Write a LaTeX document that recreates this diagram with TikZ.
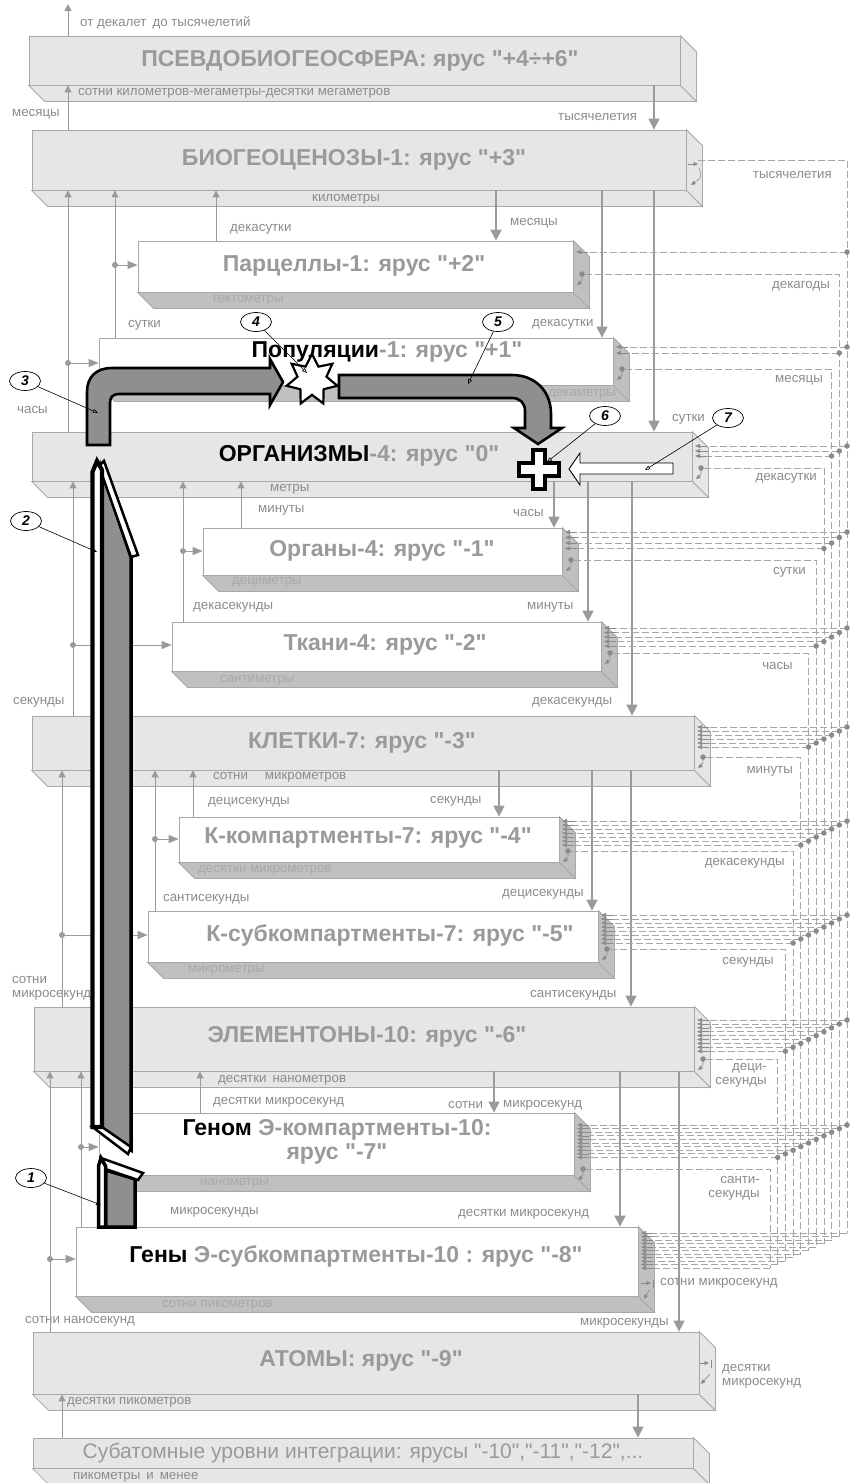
\documentclass[tikz,border=0pt]{standalone}
\usepackage{fontspec}
\setmainfont{Liberation Sans}[Ligatures=TeXOff]
\usetikzlibrary{fit,arrows.meta,shapes.geometric}
\definecolor{tgray}{HTML}{9A9A9A}
\definecolor{lgray}{HTML}{8C8C8C}
\definecolor{sgray}{HTML}{A9A9A9}
\definecolor{bord}{HTML}{A8A8A8}
\definecolor{boxg}{HTML}{E6E6E6}
\definecolor{sideg}{HTML}{C0C0C0}
\definecolor{linec}{HTML}{9A9A9A}
\definecolor{arrg}{HTML}{8F8F8F}
\definecolor{dashc}{HTML}{A6A6A6}
\definecolor{darkg}{HTML}{8A8A8A}
\newcommand\slab[7]{%
  \node[fit={(#2,#3)(#4,#5)},inner sep=0pt,draw=bord,fill=#6,line width=0.8pt] (#1) {};
  \filldraw[draw=bord,fill=#7,line width=0.8pt] (#1.south west) -- (#1.south east) -- ([shift={(16,16)}]#1.south east) -- ([shift={(16,16)}]#1.south west) -- cycle;
  \filldraw[draw=bord,fill=#7,line width=0.8pt] (#1.north east) -- ([shift={(16,16)}]#1.north east) -- ([shift={(16,16)}]#1.south east) -- (#1.south east) -- cycle;
}
\begin{document}
\begin{tikzpicture}[x=1pt,y=-1pt,
  title/.style={font=\bfseries\fontsize{23}{26}\selectfont, text=tgray, inner sep=0pt},
  lab/.style={font=\fontsize{13.3}{14}\selectfont, text=lgray, inner sep=0pt, anchor=west},
  slb/.style={lab, text=sgray},
  downarr/.style={draw=linec, line width=1.4pt, -{Triangle[length=11pt,width=11pt]}},
  uparr/.style={draw=linec, line width=1pt, -{Triangle[length=7pt,width=7pt]}},
  harr/.style={draw=linec, line width=1pt, -{Triangle[length=10pt,width=8pt]}},
  dot/.style={circle, fill=linec, inner sep=0pt, minimum size=6pt},
  sdot/.style={circle, fill=darkg, inner sep=0pt, minimum size=5.5pt},
  dline/.style={draw=dashc, line width=0.8pt, dash pattern=on 7pt off 3pt},
  inarr/.style={draw=darkg, line width=0.6pt, -{Triangle[length=5pt,width=4pt]}},
  loopar/.style={draw=darkg, line width=0.6pt, -{Triangle[length=4.5pt,width=4pt]}},
  bigar/.style={draw=black, line width=2.6pt, fill=arrg, line join=miter},
  callout/.style={ellipse, draw=black, line width=0.7pt, fill=white, minimum width=31pt, minimum height=19pt, inner sep=0pt, font=\bfseries\itshape\fontsize{14}{14}\selectfont},
  leader/.style={draw=black, line width=0.6pt, -{Triangle[open,length=5pt,width=4pt]}}
]
\fill[white] (0,0) rectangle (850,1483);
\useasboundingbox (0,0) rectangle (850,1483);

% ---------- slabs ----------
\slab{psev}{29}{36}{680}{85}{boxg}{boxg}
\slab{bio}{32}{130}{686}{190}{boxg}{boxg}
\slab{parc}{138}{241}{573}{292}{white}{sideg}
\slab{pop}{99}{338}{613}{385}{white}{sideg}
\slab{org}{32}{432}{692}{481}{boxg}{boxg}
\slab{organ}{203}{528}{562}{575}{white}{sideg}
\slab{tkan}{172}{622}{601}{671}{white}{sideg}
\slab{klet}{32}{716}{694}{770}{boxg}{boxg}
\slab{kkomp}{179}{817}{559}{862}{white}{sideg}
\slab{ksub}{148}{911}{598}{962}{white}{sideg}
\slab{elem}{34}{1007}{694}{1071}{boxg}{boxg}
\slab{genom}{99}{1113}{574}{1175}{white}{sideg}
\slab{geny}{76}{1227}{638}{1296}{white}{sideg}
\slab{atom}{33}{1332}{699}{1394}{boxg}{boxg}
\slab{subat}{33}{1438}{693}{1468}{boxg}{boxg}

% ---------- titles ----------
\node[title] (tpsev) at (360,61) {ПСЕВДОБИОГЕОСФЕРА: ярус "+4÷+6"};
\node[title] (tbio) at (354,160) {БИОГЕОЦЕНОЗЫ-1: ярус "+3"};
\node[title] (tparc) at (354,266) {Парцеллы-1: ярус "+2"};
\node[title] (tpop) at (387,352) {\textcolor{black}{Популяции}-1: ярус "+1"};
\node[title] (torg) at (359,456) {\textcolor{black}{ОРГАНИЗМЫ}-4: ярус "0"};
\node[title] (torgan) at (382,551) {Органы-4: ярус "-1"};
\node[title] (ttkan) at (385,645) {Ткани-4: ярус "-2"};
\node[title] (tklet) at (362,743) {КЛЕТКИ-7: ярус "-3"};
\node[title] (tkk) at (368,838) {К-компартменты-7: ярус "-4"};
\node[title] (tks) at (390,935) {К-субкомпартменты-7: ярус "-5"};
\node[title] (telem) at (367,1037) {ЭЛЕМЕНТОНЫ-10: ярус "-6"};
\node[title, align=center, font=\bfseries\fontsize{23}{23.5}\selectfont] (tgenom) at (337,1142) {\textcolor{black}{Геном} Э-компартменты-10:\\ярус "-7"};
\node[title] (tgeny) at (356,1256) {\textcolor{black}{Гены} Э-субкомпартменты-10 : ярус "-8"};
\node[title] (tatom) at (361,1361) {АТОМЫ: ярус "-9"};
\node[font=\fontsize{21}{23}\selectfont, text=tgray, inner sep=0pt] (tsub) at (363,1453) {Субатомные уровни интеграции: ярусы "-10","-11","-12",...};

% ---------- strip labels ----------
\node[lab] (s1) at (78,93) {сотни километров-мегаметры-десятки мегаметров};
\node[lab] (s2) at (312,199) {километры};
\node[slb] (s3) at (213,300) {гектометры};
\node[slb] (s4) at (548,394) {декаметры};
\node[lab] (s5) at (270,489) {метры};
\node[slb] (s6) at (232,582) {дециметры};
\node[slb] (s7) at (220,680) {сантиметры};
\node[lab] (s8) at (213,777) {сотни\hspace{17pt}микрометров};
\node[slb] (s9) at (198,870) {десятки микрометров};
\node[slb] (s10) at (188,970) {микрометры};
\node[lab] (s11) at (218,1080) {десятки\hspace{6pt}нанометров};
\node[slb] (s12) at (200,1183) {нанометры};
\node[slb] (s13) at (162,1305) {сотни пикометров};
\node[lab] (s14) at (67,1402) {десятки пикометров};
\node[lab] (s15) at (73,1477) {пикометры\hspace{6pt}и\hspace{6pt}менее};

% ---------- time labels (left / centre) ----------
\node[lab] (a1) at (80,23) {от декалет\hspace{6pt}до тысячелетий};
\node[lab] (a2) at (12,114) {месяцы};
\node[lab] (a3) at (558,117) {тысячелетия};
\node[lab] (a4) at (230,229) {декасутки};
\node[lab] (a5) at (510,223) {месяцы};
\node[lab] (a6) at (128,325) {сутки};
\node[lab] (a7) at (532,324) {декасутки};
\node[lab] (a8) at (17,410) {часы};
\node[lab] (a9) at (672,419) {сутки};
\node[lab] (a10) at (258,510) {минуты};
\node[lab] (a11) at (513,513) {часы};
\node[lab] (a12) at (193,607) {декасекунды};
\node[lab] (a13) at (527,607) {минуты};
\node[lab] (a14) at (13,702) {секунды};
\node[lab] (a15) at (532,702) {декасекунды};
\node[lab] (a16) at (208,802) {децисекунды};
\node[lab] (a17) at (430,801) {секунды};
\node[lab] (a18) at (163,899) {сантисекунды};
\node[lab] (a19) at (502,894) {децисекунды};
\node[lab, align=left] (a20) at (12,988) {сотни\\микросекунд};
\node[lab] (a21) at (530,995) {сантисекунды};
\node[lab] (a22) at (213,1102) {десятки микросекунд};
\node[lab] (a23) at (448,1105) {сотни};
\node[lab] (a24) at (503,1105) {микросекунд};
\node[lab] (a25) at (170,1212) {микросекунды};
\node[lab] (a26) at (458,1214) {десятки микросекунд};
\node[lab] (a27) at (25,1321) {сотни наносекунд};
\node[lab] (a28) at (580,1323) {микросекунды};
\node[lab] (a29) at (660,1283) {сотни микросекунд};
\node[lab, align=left] (a30) at (722,1376) {десятки\\микросекунд};

% ---------- time labels (right, buses) ----------
\node[lab, anchor=east] (b0) at (832,175) {тысячелетия};
\node[lab, anchor=east] (b1) at (830,286) {декагоды};
\node[lab, anchor=east] (b2) at (823,380) {месяцы};
\node[lab, anchor=east] (b3) at (817,478) {декасутки};
\node[lab, anchor=east] (b4) at (806,572) {сутки};
\node[lab, anchor=east] (b5) at (793,666) {часы};
\node[lab, anchor=east] (b6) at (793,771) {минуты};
\node[lab, anchor=east] (b7) at (785,863) {декасекунды};
\node[lab, anchor=east] (b8) at (774,962) {секунды};
\node[lab, anchor=east, align=right] (b9) at (767,1075) {деци-\\секунды};
\node[lab, anchor=east, align=right] (b10) at (760,1188) {санти-\\секунды};

% ---------- solid connectors ----------
\coordinate (topend) at (68,4);
\draw[uparr] (68,0 |- psev.north) -- (topend);
\draw[uparr] (68,0 |- bio.north) -- (68,0 |- psev.south);
\draw[downarr] (654,0 |- psev.south) -- (654,0 |- bio.north);

\draw[uparr] (68,0 |- org.north) -- (68,0 |- bio.south);
\draw[uparr] (115,0 |- pop.north) -- (115,0 |- bio.south);
\draw[uparr] (216,0 |- parc.north) -- (216,0 |- bio.south);
\node[dot] (d1) at (115,265) {}; \draw[harr] (d1.center) -- (d1 -| parc.west);
\node[dot] (d2) at (68,363) {}; \draw[harr] (d2.center) -- (d2 -| pop.west);
\draw[downarr] (496,0 |- bio.south) -- (496,0 |- parc.north);
\draw[downarr] (602,0 |- bio.south) -- (602,0 |- pop.north);
\draw[downarr] (654,0 |- bio.south) -- (654,0 |- org.north);

\draw[uparr] (73,0 |- klet.north) -- (73,0 |- org.south);
\draw[uparr] (183,0 |- tkan.north) -- (183,0 |- org.south);
\draw[uparr] (241,0 |- organ.north) -- (241,0 |- org.south);
\node[dot] (d3) at (183,551) {}; \draw[harr] (d3.center) -- (d3 -| organ.west);
\node[dot] (d4) at (73,645) {}; \draw[harr] (d4.center) -- (d4 -| tkan.west);
\draw[downarr] (554,0 |- org.south) -- (554,0 |- organ.north);
\draw[downarr] (588,0 |- org.south) -- (588,0 |- tkan.north);
\draw[downarr] (632,0 |- org.south) -- (632,0 |- klet.north);

\draw[uparr] (62,0 |- elem.north) -- (62,0 |- klet.south);
\draw[uparr] (155,0 |- ksub.north) -- (155,0 |- klet.south);
\draw[uparr] (193,0 |- kkomp.north) -- (193,0 |- klet.south);
\node[dot] (d5) at (155,839) {}; \draw[harr] (d5.center) -- (d5 -| kkomp.west);
\node[dot] (d6) at (62,935) {}; \draw[harr] (d6.center) -- (d6 -| ksub.west);
\draw[downarr] (499,0 |- klet.south) -- (499,0 |- kkomp.north);
\draw[downarr] (592,0 |- klet.south) -- (592,0 |- ksub.north);
\draw[downarr] (631,0 |- klet.south) -- (631,0 |- elem.north);

\draw[uparr] (50,0 |- atom.north) -- (50,0 |- elem.south);
\draw[uparr] (81,0 |- geny.north) -- (81,0 |- elem.south);
\draw[uparr] (200,0 |- genom.north) -- (200,0 |- elem.south);
\node[dot] (d7) at (81,1147) {}; \draw[harr] (d7.center) -- (d7 -| genom.west);
\node[dot] (d8) at (50,1259) {}; \draw[harr] (d8.center) -- (d8 -| geny.west);
\draw[downarr] (494,0 |- elem.south) -- (494,0 |- genom.north);
\draw[downarr] (620,0 |- elem.south) -- (620,0 |- geny.north);
\draw[downarr] (679,0 |- elem.south) -- (679,0 |- atom.north);

\draw[uparr] (62,0 |- subat.north) -- (62,0 |- atom.south);
\draw[downarr] (638,0 |- atom.south) -- (638,0 |- subat.north);

% ---------- dashed timing network ----------
\foreach \j/\R/\o in {0/686/160,1/573/274,2/613/369,3/692/468,4/562/560,5/601/653,6/694/757,7/559/851,8/598/949,9/694/1059,10/574/1169}{
  \pgfmathsetmacro\xx{847-7.7*\j}
  \pgfmathsetmacro\yb{1233+3.5*\j}
  \draw[dline] (\R+12,\o) -- (\xx,\o) -- (\xx,\yb);
}
\foreach \j/\R/\f/\s in {1/573/252/0,2/613/347/6,3/692/446/5,4/562/532/5.5,5/601/628/4.5,6/694/727/4,7/559/821/4,8/598/915/4,9/694/1020/3.9,10/574/1125/3.6,11/638/1233/3.5}{
  \pgfmathtruncatemacro\jm{\j-1}
  \foreach \i in {0,...,\jm}{
    \pgfmathsetmacro\yy{\f+\i*\s}
    \pgfmathsetmacro\xx{847-7.7*\i}
    \draw[dline] (\xx,\yy) -- (\R+15,\yy);
    \draw[inarr] (\R+15,\yy) -- (\R+3,\yy);
    \ifnum\j<11 \node[sdot] (n\j x\i) at (\xx,\yy) {};\fi
  }
}
\foreach \j/\R/\o in {1/573/274,2/613/369,3/692/468,4/562/560,5/601/653,6/694/757,7/559/851,8/598/949,9/694/1059,10/574/1169}{
  \node[sdot] (o\j) at (\R+9,\o) {};
  \draw[loopar] (o\j.center) .. controls (\R+9,\o+7) .. (\R+4,\o+11);
}
% self loops
\draw[loopar] (688,164) -- (698,164);
\draw[loopar] (699,168) .. controls (702,177) .. (691,185);
\draw[loopar] (700,1363) -- (709,1363);
\draw[draw=darkg, line width=0.6pt] (711,1360) -- (711,1368);
\draw[loopar] (710,1374) -- (701,1384);
\draw[loopar] (641,1283) -- (651,1283);
\draw[draw=darkg, line width=0.6pt] (653,1280) -- (653,1288);
\draw[loopar] (649,1290) -- (644,1299);

% ---------- big arrows ----------
% arrow 2 (long, rising)
\draw[bigar, line width=3.5pt] (102,470) -- (131,557) -- (131,1150) -- (102,1132) -- cycle;
\draw[draw=black, line width=2.5pt, fill=white] (92.5,1127) -- (102,1127) -- (131,1147) -- (128,1154) -- cycle;
\draw[draw=black, line width=2.5pt, fill=white] (99,466) -- (131,557) -- (138,555) -- (104,461) -- cycle;
\draw[draw=black, line width=4.2pt, fill=white, line join=miter] (92.5,1127) -- (92.5,472) -- (97,461) -- (102,470) -- (102,1127) -- cycle;
% arrow 1 (short)
\draw[bigar, line width=3.5pt] (105.5,1170) -- (135,1179) -- (135,1227) -- (105.5,1227) -- cycle;
\draw[draw=black, line width=2.5pt, fill=white] (101,1158) -- (143,1173) -- (138,1180) -- (105.5,1169) -- cycle;
\draw[draw=black, line width=3.5pt, fill=white, line join=miter] (98.5,1227) -- (98.5,1166) -- (101,1158) -- (105.5,1166) -- (105.5,1227) -- cycle;
% arrow 3
\draw[bigar] (87,445) -- (87,392) .. controls (87,377) and (96,368) .. (112,368) -- (270,368) -- (270,359) -- (283,382) -- (270,405) -- (270,394) -- (119,394) .. controls (113,394) and (110,397) .. (110,403) -- (110,445) -- cycle;
% star 4
\node[star, star points=7, star point ratio=1.75, minimum size=52pt, inner sep=0pt, draw=black, line width=2.2pt, fill=white] (star) at (312,380) {};
% arrow 5
\draw[bigar] (339,375) -- (512,375) .. controls (535,375) and (551,391) .. (551,414) -- (551,428) -- (562,428) -- (538,444) -- (514,428) -- (525,428) -- (525,411) .. controls (525,403) and (520,398) .. (512,398) -- (339,398) -- cycle;
% plus 6
\draw[draw=black, line width=3.2pt, fill=white, line join=miter] (533,450) -- (545,450) -- (545,463) -- (559,463) -- (559,476) -- (545,476) -- (545,489) -- (533,489) -- (533,476) -- (519,476) -- (519,463) -- (533,463) -- cycle;
% arrow 7
\draw[draw=black, line width=0.9pt, fill=white] (673,463) -- (580,463) -- (580,453) -- (569,469) -- (580,485) -- (580,474) -- (673,474) -- cycle;

% ---------- callouts ----------
\node[callout] (c1) at (31,1178) {1};
\node[callout] (c2) at (26,521) {2};
\node[callout] (c3) at (25,381) {3};
\node[callout] (c4) at (256,322) {4};
\node[callout] (c5) at (498,322) {5};
\node[callout] (c6) at (605,416) {6};
\node[callout] (c7) at (728,418) {7};
\coordinate (p1) at (101,1205);
\coordinate (p2) at (97,552);
\coordinate (p3) at (98,413);
\coordinate (p4) at (307,373);
\coordinate (p5) at (468,384);
\coordinate (p6) at (547,462);
\coordinate (p7) at (645,470);
\foreach \k in {1,...,7}{\draw[leader] (c\k) -- (p\k);}
\end{tikzpicture}
\end{document}
